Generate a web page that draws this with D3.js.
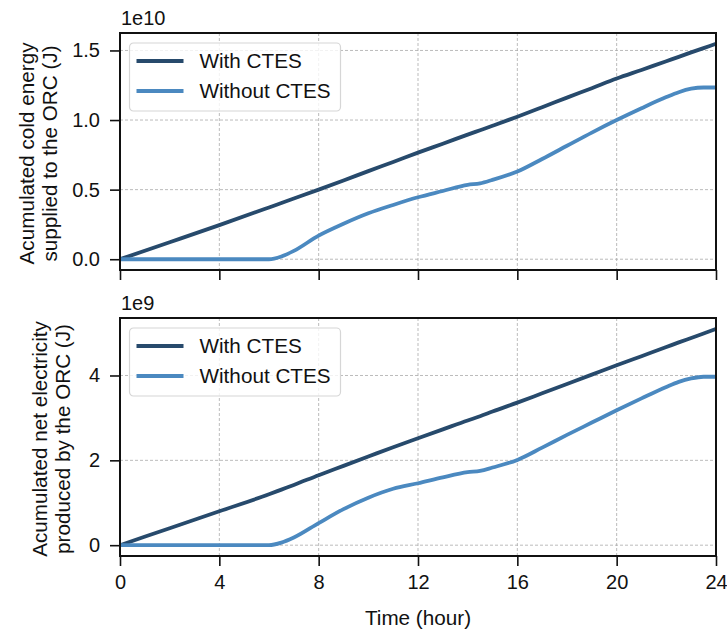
<!DOCTYPE html>
<html>
<head>
<meta charset="utf-8">
<script src="https://cdn.jsdelivr.net/npm/d3@7"></script>
<style>
  body { margin: 0; background: #fff; }
  text { font-family: "Liberation Sans", Arial, sans-serif; fill: #111; }
</style>
</head>
<body>
<script>
// time axis (hour)
var hours = [0, 2, 4, 6, 6.5, 7, 8, 9, 10, 11, 12, 13, 14, 14.5, 15, 16, 17, 18, 19, 20, 21, 22, 22.5, 23, 23.5, 24];

// cold energy supplied to the ORC, x1e10 J
var coldWith    = [0, 0.122, 0.245, 0.372, 0.404, 0.436, 0.5, 0.566, 0.633, 0.699, 0.766, 0.83, 0.895, 0.927, 0.959, 1.024, 1.092, 1.161, 1.229, 1.298, 1.36, 1.423, 1.454, 1.486, 1.517, 1.548];
var coldWithout = [0, 0, 0, 0, 0.02, 0.06, 0.17, 0.255, 0.33, 0.39, 0.445, 0.49, 0.535, 0.545, 0.57, 0.63, 0.72, 0.815, 0.91, 1.0, 1.085, 1.165, 1.2, 1.225, 1.234, 1.234];

// net electricity produced by the ORC, x1e9 J
var elecWith    = [0, 0.4, 0.8, 1.2, 1.31, 1.42, 1.65, 1.87, 2.09, 2.31, 2.52, 2.73, 2.94, 3.04, 3.15, 3.36, 3.58, 3.8, 4.02, 4.24, 4.455, 4.67, 4.78, 4.885, 4.99, 5.1];
var elecWithout = [0, 0, 0, 0, 0.06, 0.18, 0.52, 0.85, 1.12, 1.33, 1.46, 1.6, 1.72, 1.75, 1.83, 2.01, 2.3, 2.6, 2.89, 3.18, 3.46, 3.73, 3.85, 3.93, 3.97, 3.97];

var xTicks = [0, 4, 8, 12, 16, 20, 24];
var coldTicks = [0, 0.5, 1.0, 1.5];
var elecTicks = [0, 2, 4];
var seriesNames = ["With CTES", "Without CTES"];

var width = 727, height = 634;
var left = 120, right = 716;
var colors = ["#274a6c", "#4b89c0"];
var fs = 20, fsl = 20.7;

var svg = d3.select("body").append("svg")
  .attr("width", width)
  .attr("height", height);

var x = d3.scaleLinear().domain([0, 24]).range([left, right]);

function panel(top, bottom, a, b, ticks, fmt, exponent, label1, label2, showX) {
  var all = a.concat(b);
  var lo = d3.min(all), hi = d3.max(all), m = (hi - lo) * 0.05;
  var y = d3.scaleLinear().domain([lo - m, hi + m]).range([bottom, top]);
  var g = svg.append("g");

  // grid
  g.selectAll(".gx").data(xTicks.slice(1, -1)).enter().append("line")
    .attr("x1", function(d) { return x(d); }).attr("x2", function(d) { return x(d); })
    .attr("y1", top).attr("y2", bottom)
    .attr("stroke", "#aaa").attr("stroke-width", 0.8).attr("stroke-dasharray", "3,2");
  g.selectAll(".gy").data(ticks).enter().append("line")
    .attr("x1", left).attr("x2", right)
    .attr("y1", function(d) { return y(d); }).attr("y2", function(d) { return y(d); })
    .attr("stroke", "#aaa").attr("stroke-width", 0.8).attr("stroke-dasharray", "3,2");

  // lines
  var line = d3.line()
    .x(function(d, i) { return x(hours[i]); })
    .y(function(d) { return y(d); })
    .curve(d3.curveMonotoneX);
  [a, b].forEach(function(s, i) {
    g.append("path").datum(s)
      .attr("d", line)
      .attr("fill", "none")
      .attr("stroke", colors[i])
      .attr("stroke-width", 3.8)
      .attr("stroke-linejoin", "round");
  });

  // axes
  var ya = d3.axisLeft(y).tickValues(ticks).tickFormat(fmt).tickSize(10).tickPadding(10);
  var yg = g.append("g").attr("transform", "translate(" + left + ",0)").call(ya);
  var xa = d3.axisBottom(x).tickValues(xTicks).tickSize(10).tickPadding(9)
    .tickFormat(showX ? d3.format("d") : function() { return ""; });
  var xg = g.append("g").attr("transform", "translate(0," + bottom + ")").call(xa);
  [yg, xg].forEach(function(ax) {
    ax.select(".domain").remove();
    ax.selectAll(".tick line").attr("stroke", "#111").attr("stroke-width", 1.6);
    ax.selectAll(".tick text").style("font-size", fs + "px").attr("fill", "#111")
      .style("font-family", "'Liberation Sans', Arial, sans-serif");
  });

  g.append("rect")
    .attr("x", left).attr("y", top)
    .attr("width", right - left).attr("height", bottom - top)
    .attr("fill", "none").attr("stroke", "#111").attr("stroke-width", 2);

  // offset text
  g.append("text").attr("x", left + 1).attr("y", top - 8)
    .style("font-size", fs + "px").text(exponent);

  // y label
  var cy = (top + bottom) / 2 + 2;
  var lab = g.append("g").attr("transform", "translate(" + (showX ? 47 : 34) + "," + cy + ") rotate(-90)");
  lab.append("text").attr("text-anchor", "middle").attr("y", 0)
    .style("font-size", fsl + "px").text(label1);
  lab.append("text").attr("text-anchor", "middle").attr("y", 23)
    .style("font-size", fsl + "px").text(label2);

  // legend
  var lg = g.append("g").attr("transform", "translate(" + (left + 9.5) + "," + (top + 10) + ")");
  lg.append("rect").attr("width", 211).attr("height", 68).attr("rx", 4)
    .attr("fill", "#fff").attr("fill-opacity", 0.8)
    .attr("stroke", "#d6d6d6").attr("stroke-width", 1.2);
  seriesNames.forEach(function(n, i) {
    var yy = 18 + i * 30;
    lg.append("line").attr("x1", 7).attr("x2", 54).attr("y1", yy).attr("y2", yy)
      .attr("stroke", colors[i]).attr("stroke-width", 3.8);
    lg.append("text").attr("x", 70).attr("y", yy + 7)
      .style("font-size", fsl + "px").text(n);
  });
}

panel(33, 270, coldWith, coldWithout, coldTicks, d3.format(".1f"), "1e10",
  "Acumulated cold energy", "supplied to the ORC (J)", false);
panel(318, 556, elecWith, elecWithout, elecTicks, d3.format("d"), "1e9",
  "Acumulated net electricity", "produced by the ORC (J)", true);

svg.append("text").attr("x", (left + right) / 2).attr("y", 625)
  .attr("text-anchor", "middle").style("font-size", fsl + "px").text("Time (hour)");
</script>
</body>
</html>
